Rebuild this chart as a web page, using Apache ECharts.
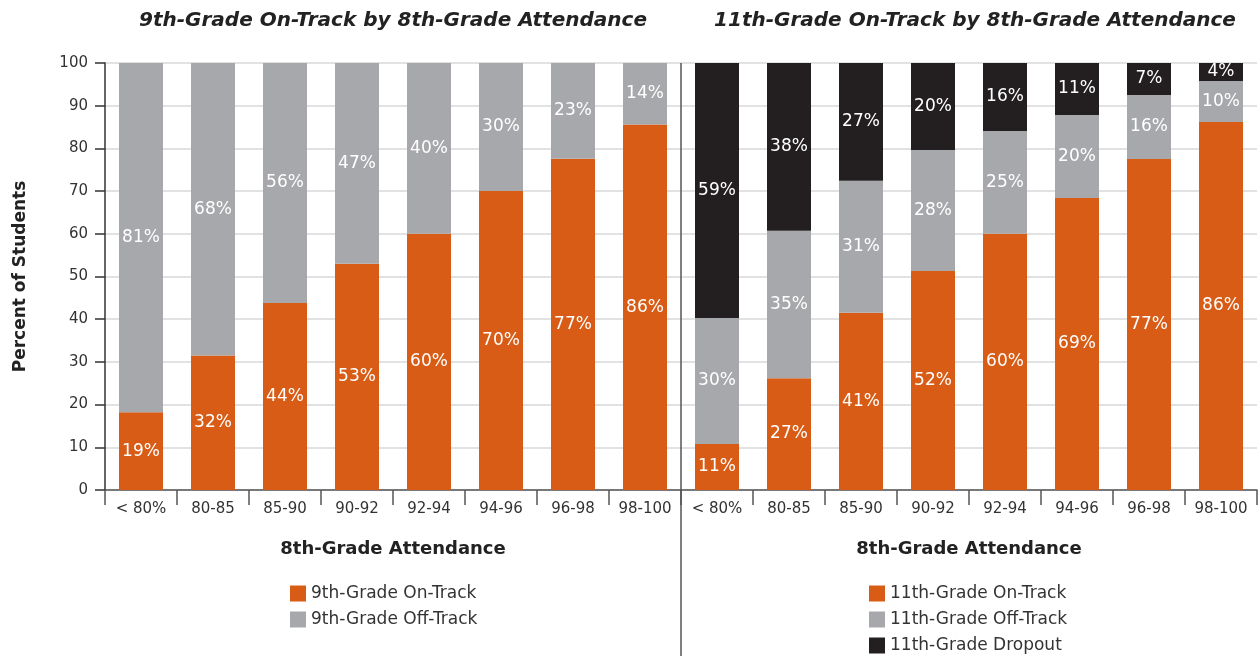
<!DOCTYPE html>
<html><head><meta charset="utf-8">
<script src="https://cdn.jsdelivr.net/npm/echarts@6/dist/echarts.min.js"></script>
<style>html,body{margin:0;padding:0;background:#fff}#c{width:1259px;height:656px}</style>
</head><body><div id="c"></div>
<script>
const categories = ['< 80%','80-85','85-90','90-92','92-94','94-96','96-98','98-100'];
const yTicks = [0,10,20,30,40,50,60,70,80,90,100];
// 9th grade panel (bar heights as read, labels as printed)
const g9OnTrack  = [18.2, 31.5, 43.8, 53.0, 60.0, 70.0, 77.6, 85.6];
const g9OffTrack = [81.8, 68.5, 56.2, 47.0, 40.0, 30.0, 22.4, 14.4];
const g9OnLabels  = ['19%','32%','44%','53%','60%','70%','77%','86%'];
const g9OffLabels = ['81%','68%','56%','47%','40%','30%','23%','14%'];
// 11th grade panel
const g11OnTrack  = [10.8, 26.2, 41.5, 51.3, 60.0, 68.4, 77.5, 86.2];
const g11OffTrack = [29.5, 34.5, 30.9, 28.3, 24.1, 19.4, 15.0, 9.6];
const g11Dropout  = [59.7, 39.3, 27.6, 20.4, 15.9, 12.2, 7.5, 4.2];
const g11OnLabels   = ['11%','27%','41%','52%','60%','69%','77%','86%'];
const g11OffLabels  = ['30%','35%','31%','28%','25%','20%','16%','10%'];
const g11DropLabels = ['59%','38%','27%','20%','16%','11%','7%','4%'];

const FONT = "'DejaVu Sans', sans-serif";
const ORANGE = '#D85C16', GRAY = '#A7A8AB', BLACK = '#231F20';

function xAxis(idx){
  return {
    type:'category', gridIndex:idx, data:categories,
    axisLine:{show:true, lineStyle:{color:'#555', width:1.5}},
    axisTick:{show:true, alignWithLabel:false, length:15, lineStyle:{color:'#555', width:1.5}},
    axisLabel:{color:'#333', fontSize:15, fontFamily:FONT, margin:12},
    name:'8th-Grade Attendance', nameLocation:'middle', nameGap:50,
    nameTextStyle:{color:'#222', fontSize:18, fontWeight:'bold', fontFamily:FONT}
  };
}
function yAxis(idx, showLabels){
  const a = {
    type:'value', gridIndex:idx, min:0, max:100, interval:10,
    splitLine:{show:true, lineStyle:{color:'#d9d9d9', width:1.5}},
    axisLine:{show:showLabels, lineStyle:{color:'#333', width:1.5}},
    axisTick:{show:showLabels, length:10, lineStyle:{color:'#333', width:1.5}},
    axisLabel:{show:showLabels, color:'#333', fontSize:15, fontFamily:FONT, margin:17,
      formatter:v=> yTicks.includes(v) ? String(v) : ''}
  };
  if(showLabels){
    a.name='Percent of Students'; a.nameLocation='middle'; a.nameGap=76;
    a.nameTextStyle={color:'#222', fontSize:17, fontWeight:'bold', fontFamily:FONT};
  }
  return a;
}
function series(name, data, labels, color, xi, stack){
  return {
    type:'bar', name, data, stack, xAxisIndex:xi, yAxisIndex:xi, barWidth:44,
    itemStyle:{color},
    label:{show:true, position:'inside', color:'#fff', fontSize:17, fontFamily:FONT,
      formatter:p=>labels[p.dataIndex]},
    emphasis:{disabled:true}
  };
}
const chart = echarts.init(document.getElementById('c'), null, {renderer:'canvas'});
chart.setOption({
  animation:false,
  title:[
    {text:'9th-Grade On-Track by 8th-Grade Attendance', left:388, top:6, textAlign:'center',
     textStyle:{fontSize:20, fontStyle:'italic', fontWeight:'bold', color:'#222', fontFamily:FONT}},
    {text:'11th-Grade On-Track by 8th-Grade Attendance', left:970, top:6, textAlign:'center',
     textStyle:{fontSize:20, fontStyle:'italic', fontWeight:'bold', color:'#222', fontFamily:FONT}}
  ],
  grid:[
    {left:105, top:63, width:576, height:427},
    {left:681, top:63, width:576, height:427}
  ],
  xAxis:[xAxis(0), xAxis(1)],
  yAxis:[yAxis(0,true), yAxis(1,false)],
  legend:[
    {orient:'vertical', left:290, top:585, padding:0, height:90, itemWidth:16, itemHeight:16, itemGap:9,
     icon:'rect', data:['9th-Grade On-Track','9th-Grade Off-Track'],
     textStyle:{fontSize:17, color:'#333', fontFamily:FONT}, selectedMode:false},
    {orient:'vertical', left:869, top:585, padding:0, height:90, itemWidth:16, itemHeight:16, itemGap:9,
     icon:'rect', data:['11th-Grade On-Track','11th-Grade Off-Track','11th-Grade Dropout'],
     textStyle:{fontSize:17, color:'#333', fontFamily:FONT}, selectedMode:false}
  ],
  graphic:[
    {type:'line', shape:{x1:681, y1:63, x2:681, y2:656}, style:{stroke:'#555', lineWidth:1.5}, z:100}
  ],
  series:[
    series('9th-Grade On-Track', g9OnTrack, g9OnLabels, ORANGE, 0, 'a'),
    series('9th-Grade Off-Track', g9OffTrack, g9OffLabels, GRAY, 0, 'a'),
    series('11th-Grade On-Track', g11OnTrack, g11OnLabels, ORANGE, 1, 'b'),
    series('11th-Grade Off-Track', g11OffTrack, g11OffLabels, GRAY, 1, 'b'),
    series('11th-Grade Dropout', g11Dropout, g11DropLabels, BLACK, 1, 'b')
  ]
});
</script></body></html>
